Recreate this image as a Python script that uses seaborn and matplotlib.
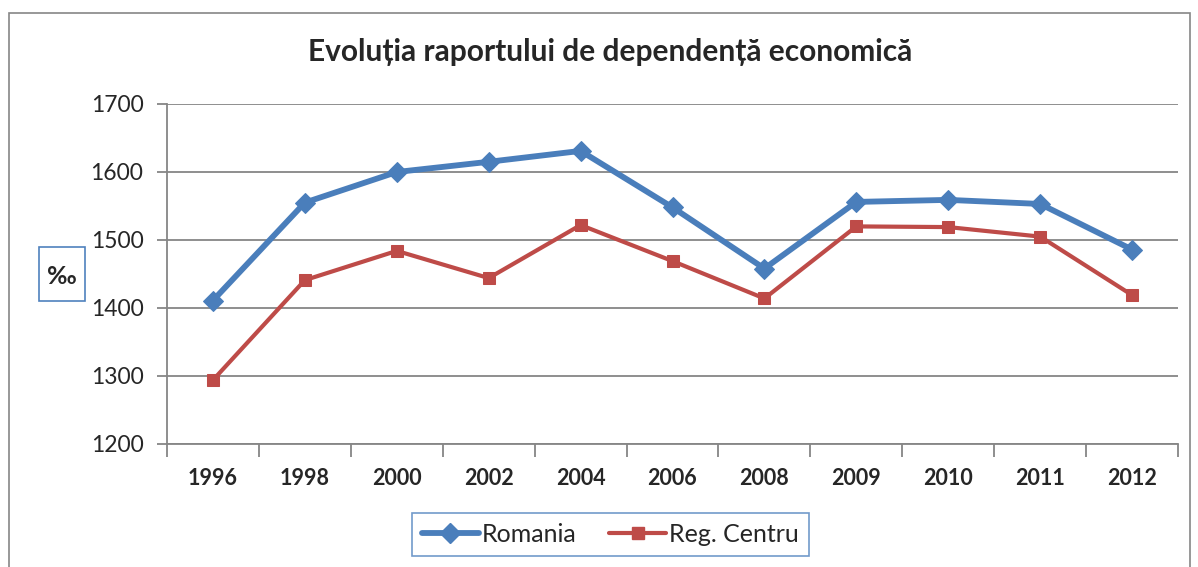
import pandas as pd
import matplotlib.pyplot as plt
import seaborn as sns
from matplotlib.patches import Rectangle
from matplotlib.lines import Line2D

# date
ani = ['1996', '1998', '2000', '2002', '2004', '2006', '2008', '2009', '2010', '2011', '2012']
romania = [1411, 1555, 1600, 1615, 1631, 1548, 1458, 1556, 1559, 1553, 1486]
reg_centru = [1294, 1441, 1484, 1444, 1522, 1469, 1414, 1520, 1519, 1505, 1419]
serii = ['Romania', 'Reg. Centru']
titlu = 'Evoluția raportului de dependență economică'
y_ticks = [1200, 1300, 1400, 1500, 1600, 1700]

df = pd.DataFrame({
    'an': ani * 2,
    'valoare': romania + reg_centru,
    'serie': [serii[0]] * len(ani) + [serii[1]] * len(ani),
})

sns.set_theme(style='white')
plt.rcParams['font.family'] = ['Lato', 'DejaVu Sans']

albastru = '#4A7EBB'
rosu = '#BE4B48'
gri = '#868686'

fig = plt.figure(figsize=(11.98, 5.67), dpi=100)
ax = fig.add_axes([167 / 1198, 1 - 444 / 567, (1178 - 167) / 1198, (444 - 104) / 567])

sns.lineplot(data=df[df['serie'] == serii[0]], x='an', y='valoare', ax=ax,
             color=albastru, linewidth=4.2, marker='D', markersize=10,
             markeredgecolor=albastru, sort=False)
sns.lineplot(data=df[df['serie'] == serii[1]], x='an', y='valoare', ax=ax,
             color=rosu, linewidth=3.0, marker='s', markersize=9,
             markeredgecolor=rosu, sort=False)

ax.set_xlim(-0.5, len(ani) - 0.5)
ax.set_ylim(1200, 1700)
ax.set_yticks(y_ticks)
ax.yaxis.grid(True, color=gri, linewidth=1.3)
ax.set_axisbelow(True)
ax.set_xlabel('')
ax.set_ylabel('')

for s in ['top', 'right']:
    ax.spines[s].set_visible(False)
for s in ['left', 'bottom']:
    ax.spines[s].set_color(gri)
    ax.spines[s].set_linewidth(1.3)

ax.set_xticks(range(len(ani)))
ax.set_xticklabels(ani, fontsize=15.5, fontweight='bold')
ax.set_xticks([i - 0.5 for i in range(len(ani) + 1)], minor=True)
ax.tick_params(axis='x', which='major', length=0, pad=17)
ax.tick_params(axis='x', which='minor', length=9, width=1.3, color=gri, direction='out')
ax.tick_params(axis='y', length=7, width=1.3, color=gri, direction='out', labelsize=16.5, pad=10)
ax.tick_params(axis='both', bottom=True, left=True)
ax.xaxis.set_tick_params(which='minor', bottom=True)

fig.text(610 / 1198, 1 - 52 / 567, titlu, ha='center', va='center',
         fontsize=21.5, fontweight='bold')

# caseta cu unitatea de masura
fig.patches.append(Rectangle((39 / 1198, 1 - 301 / 567), 46 / 1198, 54 / 567,
                             transform=fig.transFigure, fill=False,
                             edgecolor='#4F81BD', linewidth=1.2))
fig.text(62 / 1198, 1 - 276 / 567, '‰', ha='center', va='center',
         fontsize=18, fontweight='bold')

# chenarul graficului
fig.patches.append(Rectangle((9 / 1198, -0.05), 1181 / 1198, 1.05 - 13 / 567,
                             transform=fig.transFigure, fill=False,
                             edgecolor=gri, linewidth=1.2))

handles = [
    Line2D([], [], color=albastru, linewidth=4.2, marker='D', markersize=10),
    Line2D([], [], color=rosu, linewidth=3.0, marker='s', markersize=9),
]
leg = fig.legend(handles, serii, loc='center', bbox_to_anchor=(610 / 1198, 1 - 534 / 567),
                 ncol=2, fontsize=18, frameon=True, fancybox=False,
                 handlelength=2.3, columnspacing=1.3, handletextpad=0.1,
                 borderpad=0.4)
leg.get_frame().set_edgecolor('#4F81BD')
leg.get_frame().set_linewidth(1.2)

fig.savefig('out.png', dpi=100)
